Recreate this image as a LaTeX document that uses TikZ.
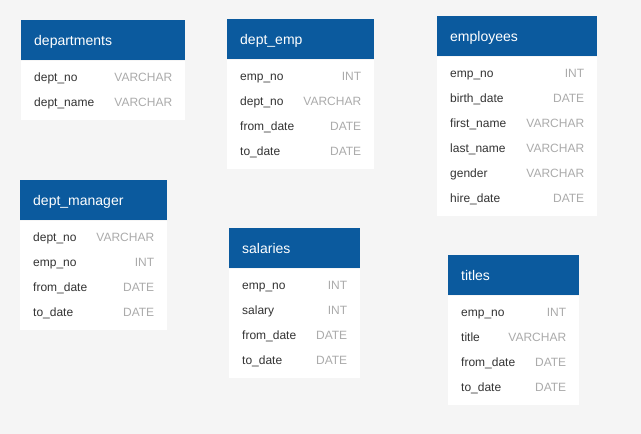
\documentclass[tikz,border=0pt]{standalone}
\usepackage{fontspec}
\setmainfont{Liberation Sans}
\definecolor{hdrblue}{HTML}{0B5A9E}
\definecolor{canvas}{HTML}{F5F5F5}
\definecolor{fieldtxt}{HTML}{333333}
\definecolor{typetxt}{HTML}{ABABAB}
\tikzset{
  tblhead/.style={fill=hdrblue, text=white, anchor=north west, inner xsep=13pt, inner ysep=0pt,
    minimum height=40pt, text height=12pt, text depth=2pt, align=left, font=\fontsize{14}{16}\selectfont},
  tblbody/.style={fill=white, anchor=north west, inner sep=0pt},
  field/.style={anchor=base west, inner sep=0pt, text=fieldtxt, font=\fontsize{12}{14}\selectfont},
  ftype/.style={anchor=base east, inner sep=0pt, text=typetxt, font=\fontsize{12}{14}\selectfont}
}
\begin{document}
\begin{tikzpicture}[x=1pt, y=-1pt]
    % Canvas
    \fill[canvas] (0,0) rectangle (641,434);

    % departments
    \node[tblhead, text width=138pt] (departments) at (21,20) {departments};
    \node[tblbody, minimum width=164pt, minimum height=59pt] (departments-body) at (departments.south west) {};
    \foreach \f/\t [count=\i from 0, evaluate=\i as \dy using -21-25*\i] in {dept\_no/VARCHAR, dept\_name/VARCHAR} {
        \node[field] (departments-f\i) at ([xshift=13pt, yshift=\dy pt] departments.south west) {\f};
        \node[ftype] (departments-t\i) at ([xshift=-13pt, yshift=\dy pt] departments.south east) {\t};
    }

    % dept_emp
    \node[tblhead, text width=121pt] (dept-emp) at (227,19) {dept\_emp};
    \node[tblbody, minimum width=147pt, minimum height=109pt] (dept-emp-body) at (dept-emp.south west) {};
    \foreach \f/\t [count=\i from 0, evaluate=\i as \dy using -21-25*\i] in {emp\_no/INT, dept\_no/VARCHAR, from\_date/DATE, to\_date/DATE} {
        \node[field] (dept-emp-f\i) at ([xshift=13pt, yshift=\dy pt] dept-emp.south west) {\f};
        \node[ftype] (dept-emp-t\i) at ([xshift=-13pt, yshift=\dy pt] dept-emp.south east) {\t};
    }

    % employees
    \node[tblhead, text width=134pt] (employees) at (437,16) {employees};
    \node[tblbody, minimum width=160pt, minimum height=159pt] (employees-body) at (employees.south west) {};
    \foreach \f/\t [count=\i from 0, evaluate=\i as \dy using -21-25*\i] in {emp\_no/INT, birth\_date/DATE, first\_name/VARCHAR, last\_name/VARCHAR, gender/VARCHAR, hire\_date/DATE} {
        \node[field] (employees-f\i) at ([xshift=13pt, yshift=\dy pt] employees.south west) {\f};
        \node[ftype] (employees-t\i) at ([xshift=-13pt, yshift=\dy pt] employees.south east) {\t};
    }

    % dept_manager
    \node[tblhead, text width=121pt] (dept-manager) at (20,180) {dept\_manager};
    \node[tblbody, minimum width=147pt, minimum height=109pt] (dept-manager-body) at (dept-manager.south west) {};
    \foreach \f/\t [count=\i from 0, evaluate=\i as \dy using -21-25*\i] in {dept\_no/VARCHAR, emp\_no/INT, from\_date/DATE, to\_date/DATE} {
        \node[field] (dept-manager-f\i) at ([xshift=13pt, yshift=\dy pt] dept-manager.south west) {\f};
        \node[ftype] (dept-manager-t\i) at ([xshift=-13pt, yshift=\dy pt] dept-manager.south east) {\t};
    }

    % salaries
    \node[tblhead, text width=105pt] (salaries) at (229,228) {salaries};
    \node[tblbody, minimum width=131pt, minimum height=109pt] (salaries-body) at (salaries.south west) {};
    \foreach \f/\t [count=\i from 0, evaluate=\i as \dy using -21-25*\i] in {emp\_no/INT, salary/INT, from\_date/DATE, to\_date/DATE} {
        \node[field] (salaries-f\i) at ([xshift=13pt, yshift=\dy pt] salaries.south west) {\f};
        \node[ftype] (salaries-t\i) at ([xshift=-13pt, yshift=\dy pt] salaries.south east) {\t};
    }

    % titles
    \node[tblhead, text width=105pt] (titles) at (448,255) {titles};
    \node[tblbody, minimum width=131pt, minimum height=109pt] (titles-body) at (titles.south west) {};
    \foreach \f/\t [count=\i from 0, evaluate=\i as \dy using -21-25*\i] in {emp\_no/INT, title/VARCHAR, from\_date/DATE, to\_date/DATE} {
        \node[field] (titles-f\i) at ([xshift=13pt, yshift=\dy pt] titles.south west) {\f};
        \node[ftype] (titles-t\i) at ([xshift=-13pt, yshift=\dy pt] titles.south east) {\t};
    }
\end{tikzpicture}
\end{document}
